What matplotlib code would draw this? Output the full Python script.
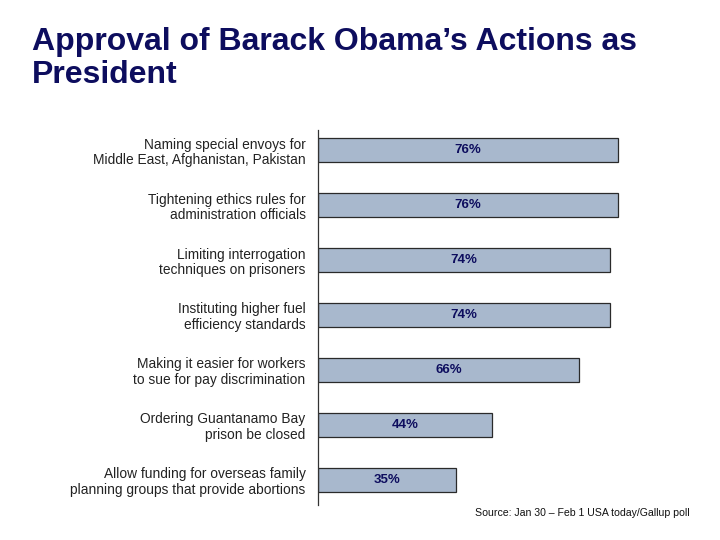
import matplotlib
matplotlib.use("Agg")
import matplotlib.pyplot as plt

categories = [
    "Naming special envoys for\nMiddle East, Afghanistan, Pakistan",
    "Tightening ethics rules for\nadministration officials",
    "Limiting interrogation\ntechniques on prisoners",
    "Instituting higher fuel\nefficiency standards",
    "Making it easier for workers\nto sue for pay discrimination",
    "Ordering Guantanamo Bay\nprison be closed",
    "Allow funding for overseas family\nplanning groups that provide abortions",
]
values = [76, 76, 74, 74, 66, 44, 35]
value_labels = ["76%", "76%", "74%", "74%", "66%", "44%", "35%"]
title = "Approval of Barack Obama\u2019s Actions as\nPresident"
source = "Source: Jan 30 \u2013 Feb 1 USA today/Gallup poll"

plt.rcParams['font.family'] = ['Liberation Sans', 'DejaVu Sans']
navy = "#0d0d5e"

fig = plt.figure(figsize=(7.2, 5.4), dpi=100)
ax = fig.add_axes([318/720, 1 - 505/540, 395/720, 375/540])

pos = list(range(len(values)))
ax.barh(pos, values, height=0.44, color="#a8b8cd", edgecolor="#2a2a2a", linewidth=0.9)
ax.set_xlim(0, 100)
ax.set_ylim(6.455, -0.364)

for p, v, lab in zip(pos, values, value_labels):
    ax.text(v / 2, p, lab, ha="center", va="center", fontsize=9.5, fontweight="bold", color=navy)

ax.set_yticks(pos)
ax.set_yticklabels(categories, fontsize=9.9, color="#222222", linespacing=1.1)
ax.tick_params(axis="y", length=0, pad=9)
ax.set_xticks([])
for s in ["top", "right", "bottom"]:
    ax.spines[s].set_visible(False)
ax.spines["left"].set_color("#333333")
ax.spines["left"].set_linewidth(0.9)

fig.text(32/720, 1 - 27/540, title, ha="left", va="top", fontsize=23, fontweight="bold",
         color=navy, linespacing=1.12)
fig.text(690/720, 1 - 513/540, source, ha="right", va="center", fontsize=7.6, color="#111111")

fig.savefig("out.png", dpi=100)
